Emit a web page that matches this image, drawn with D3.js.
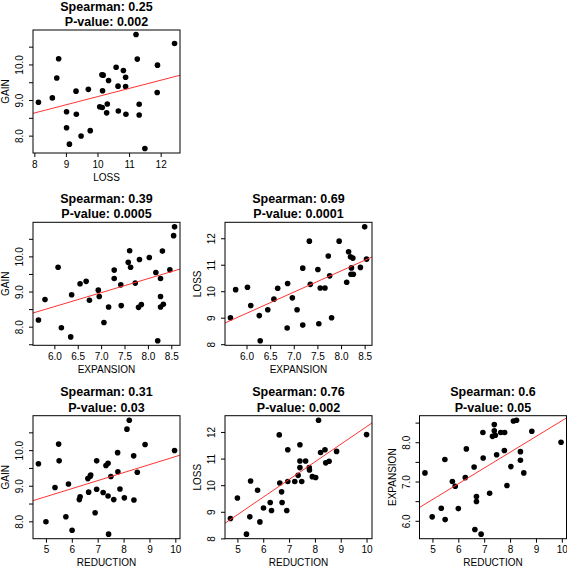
<!DOCTYPE html>
<html>
<head>
<meta charset="utf-8">
<script src="https://cdn.jsdelivr.net/npm/d3@7"></script>
<style>
  body { margin: 0; background: #fff; }
  text { font-family: "Liberation Sans", Arial, sans-serif; }
</style>
</head>
<body>
<div id="chart"></div>
<script>
// Points, [x, y] per panel
const lossGain = [
  [8.13, 8.94], [8.57, 9.06], [8.71, 9.62], [8.77, 10.16], [9.02, 8.67], [9.02, 8.22],
  [9.11, 7.76], [9.32, 9.25], [9.33, 8.60], [9.48, 7.99], [9.71, 9.30], [9.77, 8.14],
  [10.07, 8.81], [10.14, 9.71], [10.18, 9.70], [10.16, 9.26], [10.15, 8.79], [10.29, 8.64],
  [10.31, 8.89], [10.35, 9.55], [10.59, 9.92], [10.65, 9.39], [10.66, 8.69], [10.82, 9.83],
  [10.89, 9.64], [10.89, 9.38], [10.90, 8.60], [11.22, 10.84], [11.26, 10.15], [11.32, 8.88],
  [11.32, 8.58], [11.50, 7.64], [11.90, 9.98], [11.89, 9.21], [12.44, 10.59]
];
const expansionGain = [
  [5.66, 8.19], [5.80, 8.77], [6.08, 9.69], [6.15, 7.97], [6.35, 7.71], [6.37, 8.91],
  [6.55, 9.22], [6.68, 9.29], [6.75, 8.75], [6.94, 9.04], [6.96, 8.86], [7.06, 8.12],
  [7.16, 8.56], [7.28, 9.61], [7.28, 9.37], [7.42, 9.19], [7.43, 8.60], [7.58, 9.83],
  [7.61, 10.16], [7.63, 9.69], [7.73, 9.24], [7.82, 9.91], [7.80, 8.55], [7.86, 8.63],
  [8.03, 9.97], [8.17, 9.54], [8.21, 7.60], [8.27, 9.37], [8.27, 8.86], [8.27, 8.56],
  [8.31, 10.15], [8.33, 8.64], [8.47, 9.62], [8.55, 10.59], [8.57, 10.84]
];
const expansionLoss = [
  [5.66, 9.00], [5.77, 10.06], [6.02, 10.15], [6.09, 9.46], [6.27, 9.08], [6.29, 8.13],
  [6.45, 9.30], [6.58, 9.70], [6.66, 10.11], [6.86, 8.61], [6.87, 10.29], [6.97, 9.75],
  [7.07, 9.30], [7.19, 10.87], [7.19, 8.72], [7.33, 11.89], [7.35, 10.26], [7.51, 10.82],
  [7.53, 8.77], [7.56, 10.12], [7.66, 10.12], [7.73, 11.33], [7.76, 10.58], [7.80, 9.00],
  [7.96, 11.89], [8.12, 10.34], [8.16, 11.49], [8.20, 11.30], [8.22, 10.88], [8.25, 11.25],
  [8.21, 10.64], [8.26, 10.64], [8.41, 10.90], [8.50, 12.43], [8.54, 11.21]
];
const reductionGain = [
  [4.71, 9.62], [5.00, 7.99], [5.35, 8.95], [5.49, 10.17], [5.51, 9.70], [5.77, 8.13],
  [5.87, 9.05], [6.01, 7.75], [6.29, 8.61], [6.32, 8.69], [6.62, 9.20], [6.65, 8.82],
  [6.71, 9.27], [6.73, 9.30], [6.90, 8.24], [6.96, 9.70], [6.96, 8.90], [7.21, 8.81],
  [7.32, 9.57], [7.40, 9.63], [7.40, 8.71], [7.42, 7.64], [7.51, 9.26], [7.62, 8.61],
  [7.77, 9.93], [7.78, 9.39], [7.86, 8.91], [8.03, 8.66], [8.13, 10.59], [8.22, 10.84],
  [8.39, 9.84], [8.40, 8.60], [8.53, 9.38], [8.83, 10.16], [9.97, 9.99]
];
const reductionLoss = [
  [4.73, 8.75], [5.00, 9.52], [5.35, 8.16], [5.48, 8.81], [5.51, 10.16], [5.78, 9.81],
  [5.87, 8.62], [6.01, 9.14], [6.27, 9.35], [6.32, 9.05], [6.62, 11.89], [6.64, 10.08],
  [6.71, 9.75], [6.73, 9.35], [6.91, 9.05], [6.95, 11.33], [6.95, 10.14], [7.22, 10.14],
  [7.35, 10.37], [7.42, 11.52], [7.42, 10.91], [7.42, 10.66], [7.49, 10.14], [7.64, 10.91],
  [7.78, 10.66], [7.79, 10.57], [7.90, 10.32], [8.03, 10.29], [8.14, 12.44], [8.22, 11.23],
  [8.39, 11.33], [8.42, 10.84], [8.55, 10.90], [8.84, 11.27], [10.00, 11.90]
];
const reductionExpansion = [
  [4.71, 7.22], [4.99, 6.10], [5.34, 6.32], [5.48, 7.56], [5.49, 6.03], [5.77, 7.00],
  [5.88, 6.88], [6.00, 6.31], [6.27, 7.10], [6.31, 7.83], [6.61, 7.37], [6.64, 5.78],
  [6.70, 6.62], [6.70, 6.49], [6.88, 5.66], [6.95, 8.25], [6.96, 7.60], [7.21, 6.70],
  [7.32, 8.15], [7.39, 8.45], [7.39, 8.29], [7.43, 8.18], [7.48, 7.68], [7.64, 8.25],
  [7.79, 8.25], [7.78, 7.79], [7.88, 6.90], [8.03, 7.38], [8.13, 8.54], [8.25, 8.56],
  [8.40, 7.54], [8.40, 7.76], [8.53, 7.22], [8.84, 8.28], [9.97, 8.00]
];

const spearman = ['0.25', '0.39', '0.69', '0.31', '0.76', '0.6'];
const pValues = ['0.002', '0.0005', '0.0001', '0.03', '0.002', '0.05'];

// candidate ticks per variable (only those inside the axis range are drawn)
const gainTicks = [7.5, 8, 8.5, 9, 9.5, 10, 10.5, 11];
const lossTicks = [8, 9, 10, 11, 12, 13];
const expansionTicks = [5.5, 6, 6.5, 7, 7.5, 8, 8.5, 9];
const reductionTicks = [4, 5, 6, 7, 8, 9, 10, 11];

const ticksByVar = { GAIN: gainTicks, LOSS: lossTicks, EXPANSION: expansionTicks, REDUCTION: reductionTicks };
const formatByVar = { GAIN: '.1f', LOSS: 'd', EXPANSION: '.1f', REDUCTION: 'd' };

const panels = [
  { xVar: 'LOSS', yVar: 'GAIN', data: lossGain, row: 0, col: 0 },
  { xVar: 'EXPANSION', yVar: 'GAIN', data: expansionGain, row: 1, col: 0 },
  { xVar: 'EXPANSION', yVar: 'LOSS', data: expansionLoss, row: 1, col: 1 },
  { xVar: 'REDUCTION', yVar: 'GAIN', data: reductionGain, row: 2, col: 0 },
  { xVar: 'REDUCTION', yVar: 'LOSS', data: reductionLoss, row: 2, col: 1 },
  { xVar: 'REDUCTION', yVar: 'EXPANSION', data: reductionExpansion, row: 2, col: 2 }
];

const chartWidth = 567;
const chartHeight = 569;
const boxW = 147;
const boxH = 123;
const colLeft = [33, 225, 419.5];
const rowTop = [30, 222.3, 415.7];

const svg = d3.select('#chart')
  .append('svg')
  .attr('width', chartWidth)
  .attr('height', chartHeight);

// R pads the data range by 4% on each side
function padded(ext) {
  const r = ext[1] - ext[0];
  return [ext[0] - 0.04 * r, ext[1] + 0.04 * r];
}

function fitLine(data) {
  const mx = d3.mean(data, d => d[0]);
  const my = d3.mean(data, d => d[1]);
  const sxy = d3.sum(data, d => (d[0] - mx) * (d[1] - my));
  const sxx = d3.sum(data, d => (d[0] - mx) * (d[0] - mx));
  const slope = sxy / sxx;
  return { slope: slope, intercept: my - slope * mx };
}

panels.forEach(function (p, i) {
  const g = svg.append('g')
    .attr('transform', 'translate(' + colLeft[p.col] + ',' + rowTop[p.row] + ')');

  const x = d3.scaleLinear()
    .domain(padded(d3.extent(p.data, d => d[0])))
    .range([0, boxW]);
  const y = d3.scaleLinear()
    .domain(padded(d3.extent(p.data, d => d[1])))
    .range([boxH, 0]);

  const inside = scale => t => t >= scale.domain()[0] && t <= scale.domain()[1];
  const xFmt = d3.format(formatByVar[p.xVar]);
  const yFmt = d3.format(formatByVar[p.yVar]);

  // x axis
  const xAxis = g.append('g')
    .attr('transform', 'translate(0,' + boxH + ')')
    .call(d3.axisBottom(x)
      .tickValues(ticksByVar[p.xVar].filter(inside(x)))
      .tickSize(4)
      .tickPadding(3.5)
      .tickFormat(xFmt));
  xAxis.select('.domain').remove();
  xAxis.selectAll('text')
    .attr('font-size', '10px')
    .attr('font-family', '"Liberation Sans", Arial, sans-serif')
    .attr('fill', '#000');

  // y axis, labels parallel to the axis; only whole numbers get a label
  const yAxis = g.append('g')
    .call(d3.axisLeft(y)
      .tickValues(ticksByVar[p.yVar].filter(inside(y)))
      .tickSize(4)
      .tickFormat(t => Number.isInteger(t) ? yFmt(t) : ''));
  yAxis.select('.domain').remove();
  yAxis.selectAll('text')
    .attr('x', 0)
    .attr('dy', 0)
    .attr('transform', 'translate(-10,0) rotate(-90)')
    .attr('text-anchor', 'middle')
    .attr('font-size', '10px')
    .attr('font-family', '"Liberation Sans", Arial, sans-serif')
    .attr('fill', '#000');

  // axis titles
  g.append('text')
    .text(p.xVar)
    .attr('x', boxW / 2)
    .attr('y', boxH + 27.5)
    .attr('text-anchor', 'middle')
    .attr('font-size', '10px')
    .attr('fill', '#000');
  g.append('text')
    .text(p.yVar)
    .attr('transform', 'translate(-24,' + boxH / 2 + ') rotate(-90)')
    .attr('text-anchor', 'middle')
    .attr('font-size', '10px')
    .attr('fill', '#000');

  // title
  g.append('text')
    .text('Spearman: ' + spearman[i])
    .attr('x', boxW / 2)
    .attr('y', -19.3)
    .attr('text-anchor', 'middle')
    .attr('font-size', '12.5px')
    .attr('font-weight', 'bold');
  g.append('text')
    .text('P-value: ' + pValues[i])
    .attr('x', boxW / 2)
    .attr('y', -4)
    .attr('text-anchor', 'middle')
    .attr('font-size', '12.5px')
    .attr('font-weight', 'bold');

  // points
  g.selectAll('circle')
    .data(p.data)
    .enter()
    .append('circle')
    .attr('cx', d => x(d[0]))
    .attr('cy', d => y(d[1]))
    .attr('r', 2.8)
    .attr('fill', '#000');

  // least squares line, clipped to the box
  const clipId = 'clip' + i;
  g.append('clipPath')
    .attr('id', clipId)
    .append('rect')
    .attr('width', boxW)
    .attr('height', boxH);
  const fit = fitLine(p.data);
  const xd = x.domain();
  g.append('line')
    .attr('clip-path', 'url(#' + clipId + ')')
    .attr('x1', x(xd[0]))
    .attr('y1', y(fit.intercept + fit.slope * xd[0]))
    .attr('x2', x(xd[1]))
    .attr('y2', y(fit.intercept + fit.slope * xd[1]))
    .attr('stroke', '#f33')
    .attr('stroke-width', 1);

  // box
  g.append('rect')
    .attr('width', boxW)
    .attr('height', boxH)
    .attr('fill', 'none')
    .attr('stroke', '#000')
    .attr('stroke-width', 1);
});
</script>
</body>
</html>
